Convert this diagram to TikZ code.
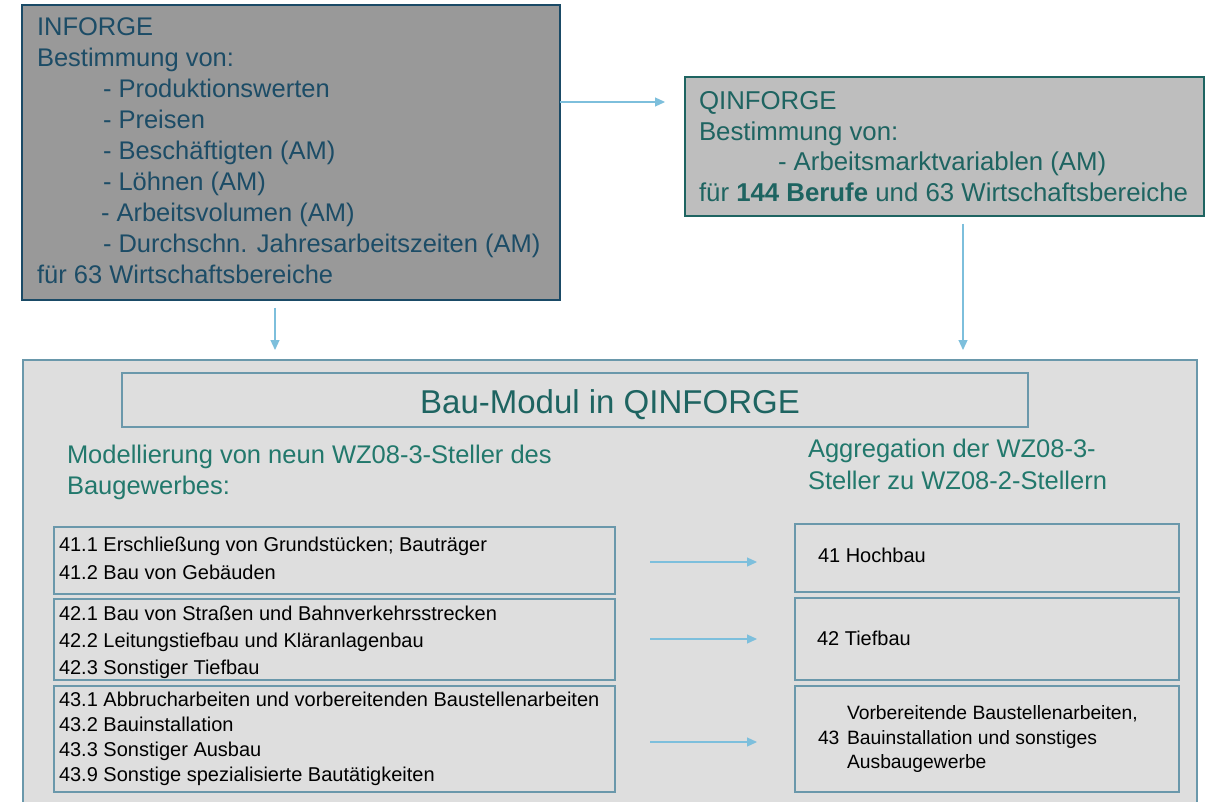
\documentclass[tikz,border=0pt]{standalone}
\usepackage{fontspec}
\setmainfont{Liberation Sans}
\usetikzlibrary{arrows.meta}
\definecolor{infFill}{HTML}{999999}
\definecolor{infLine}{HTML}{1A4A66}
\definecolor{infText}{HTML}{1C4C66}
\definecolor{qFill}{HTML}{BEBEBE}
\definecolor{qLine}{HTML}{1E6461}
\definecolor{qText}{HTML}{1E6461}
\definecolor{bigFill}{HTML}{DEDEDE}
\definecolor{bigLine}{HTML}{6A98AB}
\definecolor{headText}{HTML}{22786C}
\definecolor{arrCol}{HTML}{7DBFDC}
\tikzset{
  boxbase/.style={rectangle, inner sep=0pt, outer sep=0pt},
  infbox/.style={boxbase, draw=infLine, fill=infFill, line width=2pt},
  qbox/.style={boxbase, draw=qLine, fill=qFill, line width=2pt},
  bigbox/.style={boxbase, draw=bigLine, fill=bigFill, line width=2pt},
  innerbox/.style={boxbase, draw=bigLine, line width=2pt},
  arr/.style={draw=arrCol, line width=1.2pt, -{Triangle[length=10pt,width=9pt]}},
  tx/.style={anchor=base west, inner sep=0pt, outer sep=0pt},
  inftx/.style={tx, text=infText, font=\fontsize{25.5}{30}\selectfont},
  qtx/.style={tx, text=qText, font=\fontsize{25.8}{30}\selectfont},
  headtx/.style={tx, text=headText, font=\fontsize{25.5}{30}\selectfont},
  smalltx/.style={tx, text=black, font=\fontsize{20}{24}\selectfont},
  smalltxb/.style={tx, text=black, font=\fontsize{19.3}{23}\selectfont},
}
\begin{document}
\begin{tikzpicture}[x=1pt,y=-1pt]
\useasboundingbox[fill=white] (0,0) rectangle (1210,802);
% main boxes
\node[infbox, minimum width=538pt, minimum height=295pt] (inf) at (291,152.5) {};
\node[qbox, minimum width=519pt, minimum height=139pt] (qinf) at (944.5,146.5) {};
\node[bigbox, minimum width=1174pt, minimum height=450pt] (big) at (610,585) {};
\node[innerbox, minimum width=906pt, minimum height=54pt] (title) at (575,400) {};
% INFORGE text
\node[inftx] (i1) at (37,36) {INFORGE};
\node[inftx] (i2) at (37,67) {Bestimmung von:};
\node[inftx] (i3) at (103,98) {- Produktionswerten};
\node[inftx] (i4) at (103,129) {- Preisen};
\node[inftx] (i5) at (103,160) {- Beschäftigten (AM)};
\node[inftx] (i6) at (103,191) {- Löhnen (AM)};
\node[inftx] (i7) at (101,222) {- Arbeitsvolumen (AM)};
\node[inftx] (i8) at (103,253) {- Durchschn. Jahresarbeitszeiten (AM)};
\node[inftx] (i9) at (37,284) {für 63 Wirtschaftsbereiche};
% QINFORGE text
\node[qtx] (q1) at (699,110) {QINFORGE};
\node[qtx] (q2) at (699,141) {Bestimmung von:};
\node[qtx] (q3) at (778,171) {- Arbeitsmarktvariablen (AM)};
\node[qtx] (q4) at (699,202) {für \textbf{144 Berufe} und 63 Wirtschaftsbereiche};
% title and headings
\node[anchor=base, inner sep=0pt, text=qText, font=\fontsize{33}{38}\selectfont] (tt) at (610,413) {Bau-Modul in QINFORGE};
\node[headtx] (h1) at (67,463) {Modellierung von neun WZ08-3-Steller des};
\node[headtx] (h2) at (67,494) {Baugewerbes:};
\node[headtx] (h3) at (808,457) {Aggregation der WZ08-3-};
\node[headtx] (h4) at (808,489) {Steller zu WZ08-2-Stellern};
% left boxes
\node[innerbox, minimum width=561pt, minimum height=67pt] (l1) at (334.5,560.5) {};
\node[innerbox, minimum width=561pt, minimum height=81pt] (l2) at (334.5,639.5) {};
\node[innerbox, minimum width=561pt, minimum height=106pt] (l3) at (334.5,739) {};
% right boxes
\node[innerbox, minimum width=384pt, minimum height=68pt] (r1) at (987,558) {};
\node[innerbox, minimum width=384pt, minimum height=82pt] (r2) at (987,639) {};
\node[innerbox, minimum width=384pt, minimum height=106pt] (r3) at (987,739) {};
% left texts
\node[smalltx] (t11) at (59,551) {41.1 Erschließung von Grundstücken; Bauträger};
\node[smalltx] (t12) at (59,579) {41.2 Bau von Gebäuden};
\node[smalltx] (t21) at (59,620) {42.1 Bau von Straßen und Bahnverkehrsstrecken};
\node[smalltx] (t22) at (59,647) {42.2 Leitungstiefbau und Kläranlagenbau};
\node[smalltx] (t23) at (59,674) {42.3 Sonstiger Tiefbau};
\node[smalltx] (t31) at (59,706) {43.1 Abbrucharbeiten und vorbereitenden Baustellenarbeiten};
\node[smalltx] (t32) at (59,731) {43.2 Bauinstallation};
\node[smalltx] (t33) at (59,756) {43.3 Sonstiger Ausbau};
\node[smalltx] (t34) at (59,781) {43.9 Sonstige spezialisierte Bautätigkeiten};
% right texts
\node[smalltx] (s1) at (818,562) {41 Hochbau};
\node[smalltx] (s2) at (817,645) {42 Tiefbau};
\node[smalltxb] (s30) at (818,744) {43};
\node[smalltxb] (s31) at (847,719) {Vorbereitende Baustellenarbeiten,};
\node[smalltxb] (s32) at (847,744) {Bauinstallation und sonstiges};
\node[smalltxb] (s33) at (847,768) {Ausbaugewerbe};
% connectors
\coordinate (cx1) at (275,0);
\coordinate (cx2) at (963,0);
\coordinate (cy1) at (0,102);
\coordinate (cy2) at (0,562);
\coordinate (cy3) at (0,639);
\coordinate (cy4) at (0,742);
\draw[arr, shorten >=20pt] (inf.east |- cy1) -- (qinf.west |- cy1);
\draw[arr, shorten <=8pt, shorten >=10pt] (inf.south -| cx1) -- (big.north -| cx1);
\draw[arr, shorten <=8pt, shorten >=10pt] (qinf.south -| cx2) -- (big.north -| cx2);
\draw[arr, shorten <=35pt, shorten >=38pt] (l1.east |- cy2) -- (r1.west |- cy2);
\draw[arr, shorten <=35pt, shorten >=38pt] (l2.east |- cy3) -- (r2.west |- cy3);
\draw[arr, shorten <=35pt, shorten >=38pt] (l3.east |- cy4) -- (r3.west |- cy4);
\end{tikzpicture}
\end{document}
